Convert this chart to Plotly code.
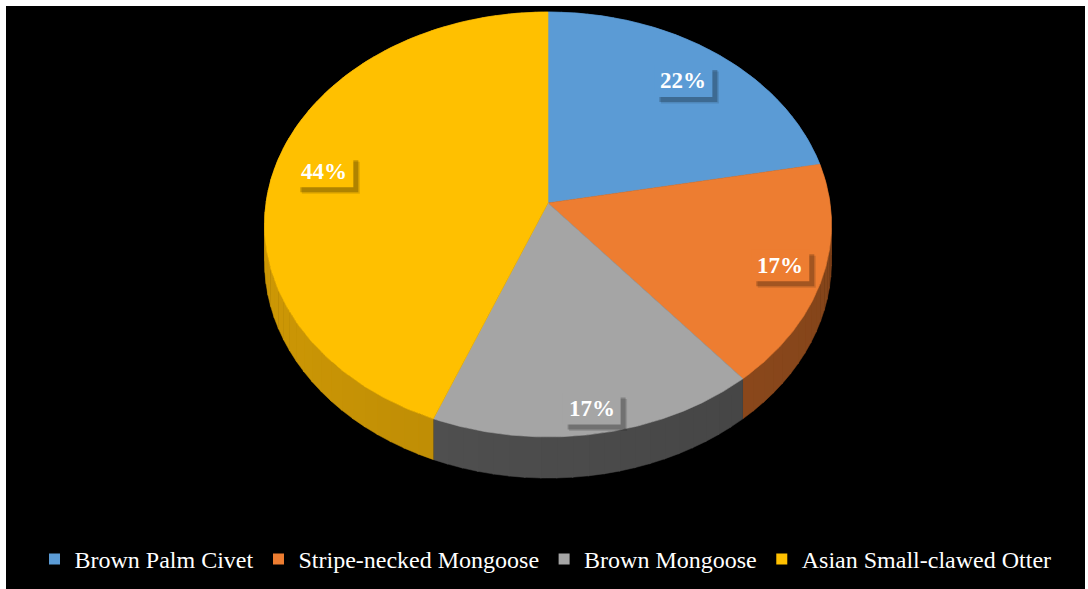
import numpy as np
import plotly.graph_objects as go

# Share of records per species (percent)
species = ["Brown Palm Civet", "Stripe-necked Mongoose", "Brown Mongoose", "Asian Small-clawed Otter"]
shares = [22, 17, 17, 44]

top_colors = ["#5B9BD5", "#ED7D31", "#A5A5A5", "#FFC000"]
side_colors = [(58, 110, 158), (150, 78, 30), (76, 76, 76), (184, 136, 5)]
label_radius = [0.80, 0.85, 0.90, 0.82]

# Pie geometry in pixel-like axis units (y grows downward)
CX, CY = 548.0, 203.0      # projected pie centre
A, B = 282.0, 210.3        # horizontal / vertical radius scale
K = 0.101                  # perspective foreshortening of the far side
DEPTH = 37.0               # thickness of the disc

# Label box size (axis units) and its shadow offset
BOX_W, BOX_H = 58.0, 32.0
SHADOW = 5.0


def project(theta, r=1.0, drop=0.0):
    """Map a polar point on the disc (clockwise from 12 o'clock) to the plane."""
    X = r * np.sin(theta)
    Y = r * np.cos(theta)
    s = 1.0 / (1.0 + K * Y)
    return CX + A * X * s, CY - B * Y * s + DEPTH * drop * s


def shade(rgb, theta):
    """Light the outer wall from the left: brighter towards 9 o'clock."""
    f = 1.0 + 0.12 * (-np.sin(theta))
    r, g, b = (int(min(255, max(0, c * f))) for c in rgb)
    return f"rgb({r},{g},{b})"


total = float(sum(shares))
bounds = np.concatenate([[0.0], np.cumsum(shares) / total]) * 2 * np.pi

fig = go.Figure()

# Outer walls of the disc first, split into thin strips for soft lighting
STRIP = np.deg2rad(3.0)
for i in range(len(shares)):
    n = max(2, int(np.ceil((bounds[i + 1] - bounds[i]) / STRIP)))
    edges = np.linspace(bounds[i], bounds[i + 1], n + 1)
    for a0, a1 in zip(edges[:-1], edges[1:]):
        # overlap slightly so no seams show between strips
        t = np.linspace(a0, min(a1 + 0.004, bounds[i + 1]), 8)
        xt, yt = project(t)
        xb, yb = project(t[::-1], drop=1.0)
        col = shade(side_colors[i], 0.5 * (a0 + a1))
        fig.add_trace(go.Scatter(
            x=np.concatenate([xt, xb]), y=np.concatenate([yt, yb]),
            fill="toself", mode="lines", line=dict(width=0.5, color=col),
            fillcolor=col, hoverinfo="skip", showlegend=False))

# Top faces of the slices
for i in range(len(shares)):
    t = np.linspace(bounds[i], bounds[i + 1], 160)
    xa, ya = project(t)
    fig.add_trace(go.Scatter(
        x=np.concatenate([[CX], xa, [CX]]), y=np.concatenate([[CY], ya, [CY]]),
        fill="toself", mode="lines", line=dict(width=0.6, color=top_colors[i]),
        fillcolor=top_colors[i], hoverinfo="skip", showlegend=False))

# Legend entries
for i, name in enumerate(species):
    fig.add_trace(go.Scatter(
        x=[None], y=[None], mode="markers", name=name,
        marker=dict(symbol="square", size=11, color=top_colors[i])))

# Percentage labels in boxes with a soft drop shadow
for i, v in enumerate(shares):
    mid = 0.5 * (bounds[i] + bounds[i + 1])
    lx, ly = project(mid, r=label_radius[i])
    for k, alpha in ((SHADOW + 1.5, 0.12), (SHADOW, 0.22)):
        fig.add_shape(type="rect", layer="above",
                      x0=lx - BOX_W / 2 + k, x1=lx + BOX_W / 2 + k,
                      y0=ly - BOX_H / 2 + k, y1=ly + BOX_H / 2 + k,
                      fillcolor=f"rgba(0,0,0,{alpha})", line=dict(width=0))
    fig.add_shape(type="rect", layer="above",
                  x0=lx - BOX_W / 2, x1=lx + BOX_W / 2,
                  y0=ly - BOX_H / 2, y1=ly + BOX_H / 2,
                  fillcolor=top_colors[i], line=dict(width=0))
    fig.add_annotation(x=lx, y=ly, text=f"<b>{v}%</b>", showarrow=False,
                       font=dict(family="Liberation Serif", size=23, color="white"))

fig.update_layout(
    width=1088, height=589,
    margin=dict(l=6, r=3, t=6, b=0),
    paper_bgcolor="white", plot_bgcolor="black",
    xaxis=dict(range=[6, 1085], visible=False, fixedrange=True),
    yaxis=dict(range=[589, 6], visible=False, fixedrange=True),
    showlegend=True,
    legend=dict(orientation="h", x=0.5, xanchor="center", y=0.012, yanchor="bottom",
                font=dict(family="Liberation Serif", size=24, color="white"),
                bgcolor="rgba(0,0,0,0)", itemwidth=30, tracegroupgap=0),
)

fig.write_html("out.html")
